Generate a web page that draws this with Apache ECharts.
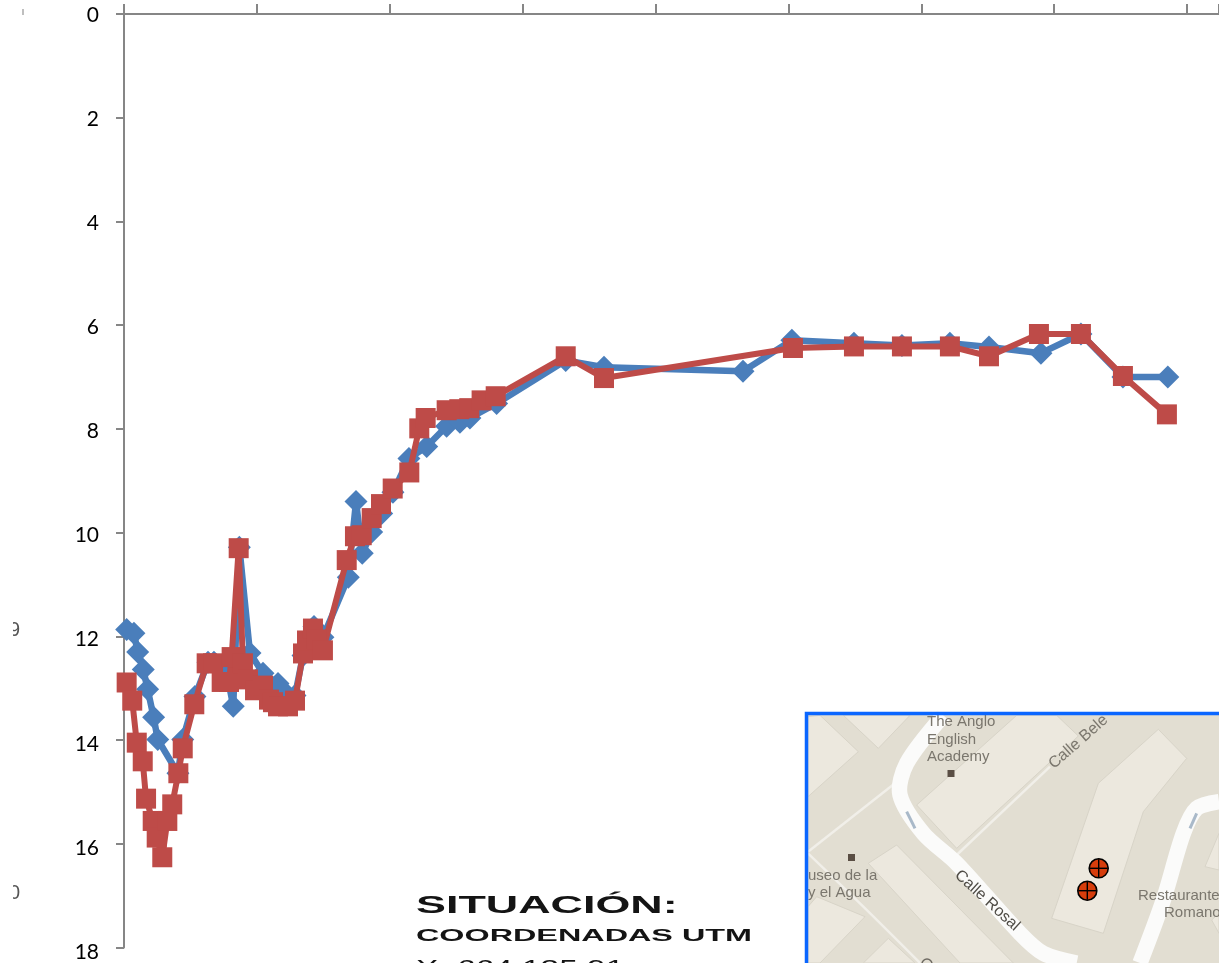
<!DOCTYPE html>
<html>
<head>
<meta charset="utf-8">
<style>html,body{margin:0;padding:0;background:#fff;overflow:hidden}#c{width:1219px;height:963px}</style>
<script src="https://cdn.jsdelivr.net/npm/echarts@6/dist/echarts.min.js"></script>
</head>
<body>
<div id="c"></div>
<script>
const depthTicks = [0, 2, 4, 6, 8, 10, 12, 14, 16, 18];
const blueX = [0.20,0.75,1.03,1.45,1.78,2.23,2.54,4.06,4.42,5.34,6.32,6.77,7.67,8.22,8.68,9.48,10.46,11.59,12.19,12.87,13.47,14.30,14.97,16.88,17.46,17.93,18.64,19.39,20.24,21.44,22.78,24.28,25.28,26.03,28.04,33.24,36.12,46.58,50.26,54.93,58.54,62.15,65.09,69.00,72.01,75.17,78.55];
const blueY = [11.87,11.94,12.30,12.64,13.02,13.56,13.99,14.64,13.99,13.16,12.50,12.50,12.62,13.35,10.28,12.32,12.71,12.91,13.10,13.14,12.37,11.81,12.02,10.86,9.40,10.40,9.99,9.63,9.22,8.57,8.34,7.95,7.87,7.79,7.51,6.68,6.81,6.89,6.29,6.35,6.39,6.35,6.42,6.54,6.17,7.00,7.00];
const redX = [0.20,0.62,0.96,1.41,1.66,2.16,2.46,2.88,3.26,3.63,4.09,4.42,5.29,6.22,6.70,7.35,7.90,8.10,8.63,8.95,9.33,9.86,10.46,10.91,11.21,11.59,12.34,12.87,13.47,13.77,14.22,14.52,14.97,16.76,17.38,17.89,18.64,19.34,20.22,21.47,22.22,22.70,24.28,25.23,25.98,26.91,27.97,33.24,36.12,50.34,54.93,58.54,62.15,65.09,68.85,72.01,75.17,78.48];
const redY = [12.89,13.24,14.05,14.41,15.13,15.56,15.88,16.26,15.56,15.24,14.64,14.16,13.31,12.52,12.52,12.88,12.88,12.40,10.30,12.52,12.83,13.04,12.95,13.22,13.27,13.35,13.35,13.24,12.33,12.08,11.85,12.06,12.27,10.53,10.07,10.05,9.72,9.45,9.15,8.84,7.99,7.79,7.64,7.62,7.60,7.45,7.37,6.60,7.02,6.44,6.41,6.41,6.41,6.60,6.17,6.17,6.98,7.72];

const zip = (xs, ys) => xs.map((x, i) => [x, ys[i]]);
const Z = pts => pts.map(([x, y]) => [800 + x / 3, 700 + y / 3]);
const axisGrey = '#868686';
const mapBase = '#e2ded2', mapBlock = '#ece8de', road = '#fbfbfa', mapText = '#7a766d';

const poly = pts => ({ type: 'polygon', shape: { points: Z(pts) }, style: { fill: mapBlock, stroke: '#d8d4c8', lineWidth: 1 } });
const lane = (pts, w, c) => ({ type: 'polyline', shape: { points: Z(pts), smooth: 0.3 }, style: { fill: 'none', stroke: c || road, lineWidth: w, lineCap: 'butt', lineJoin: 'round' } });
const label = (s, x, y, o = {}) => ({ type: 'text', x, y, rotation: o.rotation || 0,
  style: { text: s, fontFamily: 'Liberation Sans', fontSize: o.size || 15, fill: o.fill || mapText, align: 'left', verticalAlign: 'middle' } });
const wide = (s, x, y, size, sx, weight) => ({ type: 'text', x, y, scaleX: sx,
  style: { text: s, fontFamily: 'Liberation Sans', fontSize: size, fontWeight: weight, fill: '#141414', align: 'left', verticalAlign: 'middle' } });
const marker = (cx, cy) => [
  { type: 'circle', shape: { cx, cy, r: 9.5 }, style: { fill: '#d63d0c', stroke: '#000', lineWidth: 1.6 } },
  { type: 'line', shape: { x1: cx - 9, y1: cy, x2: cx + 9, y2: cy }, style: { stroke: '#000', lineWidth: 1.4 } },
  { type: 'line', shape: { x1: cx, y1: cy - 9, x2: cx, y2: cy + 9 }, style: { stroke: '#000', lineWidth: 1.4 } }
];

const mapElements = [
  { type: 'rect', shape: { x: 805, y: 712, width: 414, height: 251 }, style: { fill: mapBase } },
  poly([[24,50],[60,46],[175,155],[24,290]]),
  poly([[130,46],[330,46],[235,145]]),
  poly([[650,46],[770,46],[835,108],[470,445],[350,315]]),
  poly([[1075,88],[1160,175],[1030,335],[910,700],[755,655],[895,250]]),
  poly([[205,490],[290,435],[640,789],[480,789]]),
  poly([[24,620],[50,590],[195,650],[60,789],[24,789]]),
  poly([[190,789],[265,715],[345,789]]),
  poly([[1215,500],[1257,400],[1257,510]]),
  poly([[1235,660],[1257,640],[1257,700]]),
  lane([[24,455],[285,250]], 2.5, '#f1efe9'),
  lane([[470,465],[750,200]], 2.5, '#f1efe9'),
  lane([[24,460],[190,620],[360,789]], 2.5, '#f1efe9'),
  lane([[430,46],[320,190],[300,285],[370,400],[470,490],[660,700],[730,760],[830,789]], 15.5),
  lane([[1257,305],[1190,325],[1150,400],[1090,600],[1020,789]], 15.5),
  { type: 'polyline', shape: { points: Z([[320,335],[345,385]]) }, style: { fill: 'none', stroke: '#a9b9c9', lineWidth: 3 } },
  { type: 'polyline', shape: { points: Z([[1190,340],[1170,385]]) }, style: { fill: 'none', stroke: '#a9b9c9', lineWidth: 3 } },
  { type: 'rect', shape: { x: 947.5, y: 770, width: 7, height: 7 }, style: { fill: '#5a4e44' } },
  { type: 'rect', shape: { x: 848, y: 854, width: 7, height: 7 }, style: { fill: '#5a4e44' } },
  { type: 'circle', shape: { cx: 927, cy: 964, r: 5 }, style: { fill: 'none', stroke: '#6e6a62', lineWidth: 1.5 } },
  label('The Anglo', 927, 722),
  label('English', 927, 740),
  label('Academy', 927, 757),
  label('Calle Bele', 1051, 766, { rotation: 0.72, size: 16 }),
  label('Calle Rosal', 957, 873, { rotation: -0.74, size: 16, fill: '#4f4c46' }),
  label('useo de la', 808, 876, { size: 15 }),
  label('y el Agua', 808, 893, { size: 15 }),
  label('Restaurante', 1138, 896, { size: 15 }),
  label('Romano', 1164, 913, { size: 15 }),
  ...marker(1098.7, 868.3),
  ...marker(1087.3, 890.7),
  { type: 'rect', shape: { x: 806.5, y: 713.5, width: 420, height: 260 }, style: { fill: 'none', stroke: '#0a66ff', lineWidth: 3.5 } }
];

const digit = (s, y) => ({ type: 'text', x: 9, y, style: { text: s, fontFamily: 'Liberation Sans', fontSize: 20, fill: '#555', verticalAlign: 'middle' } });
const textElements = [
  wide('SITUACIÓN:', 416, 907, 23, 1.95, 'bold'),
  wide('COORDENADAS UTM', 416, 936, 16.5, 1.96, 'bold'),
  wide('X: 664.135,91', 416, 969, 22, 1.52, 'normal'),
  digit('9', 630),
  digit('0', 893),
  { type: 'rect', shape: { x: 0, y: 600, width: 13, height: 320 }, style: { fill: '#fff' } },
  { type: 'line', shape: { x1: 23, y1: 9, x2: 23, y2: 15 }, style: { stroke: '#aaa', lineWidth: 1.5 } }
];

const chart = echarts.init(document.getElementById('c'), null, { renderer: 'canvas' });
chart.setOption({
  animation: false,
  backgroundColor: '#ffffff',
  grid: [
    { left: 124, top: 14, width: 1095, height: 933.5, containLabel: false },
    { left: 124, top: 15, width: 1095, height: 937, containLabel: false }
  ],
  xAxis: [
    { gridIndex: 0, type: 'value', position: 'top', min: 0, max: 82.4, interval: 10,
      axisLine: { onZero: false, lineStyle: { color: axisGrey, width: 2 } },
      axisTick: { show: true, length: 10, lineStyle: { color: axisGrey, width: 2 } },
      axisLabel: { show: false }, splitLine: { show: false } },
    { gridIndex: 1, type: 'value', min: 0, max: 82.4, show: false }
  ],
  yAxis: [
    { gridIndex: 0, type: 'value', inverse: true, min: 0, max: 18, interval: 2,
      axisLine: { show: true, onZero: false, lineStyle: { color: axisGrey, width: 2 } },
      axisTick: { show: true, length: 8, lineStyle: { color: axisGrey, width: 2 } },
      axisLabel: { show: false }, splitLine: { show: false } },
    { gridIndex: 1, type: 'value', inverse: true, min: 0, max: 18, interval: 2,
      axisLine: { show: false }, axisTick: { show: false }, splitLine: { show: false },
      axisLabel: { show: true, margin: 25, color: '#000', fontFamily: 'Lato', fontSize: 21,
        formatter: v => depthTicks.includes(v) ? String(v) : '' } }
  ],
  series: [
    { name: 'blue', type: 'line', xAxisIndex: 0, yAxisIndex: 0, data: zip(blueX, blueY), clip: false, z: 2,
      symbol: 'diamond', symbolSize: 23, showAllSymbol: true,
      lineStyle: { color: '#4a7ebb', width: 6.5 }, itemStyle: { color: '#4a7ebb' } },
    { name: 'red', type: 'line', xAxisIndex: 0, yAxisIndex: 0, data: zip(redX, redY), clip: false, z: 3,
      symbol: 'rect', symbolSize: 20, showAllSymbol: true,
      lineStyle: { color: '#be4b48', width: 6 }, itemStyle: { color: '#be4b48' } }
  ],
  graphic: { elements: [...mapElements, ...textElements] }
});
</script>
</body>
</html>
